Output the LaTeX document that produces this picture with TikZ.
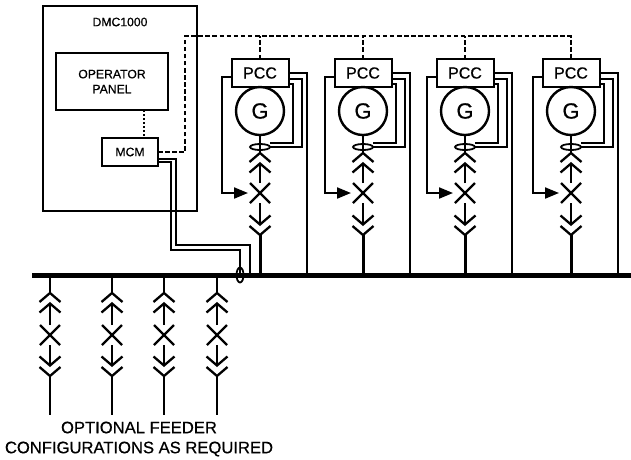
\documentclass[tikz,border=0pt]{standalone}
\usepackage{fontspec}
\setmainfont[FakeBold=0.6]{Liberation Sans}
\usetikzlibrary{arrows.meta}
\usetikzlibrary{positioning}
\usetikzlibrary{shapes.misc}
\usetikzlibrary{shapes.geometric}

\tikzset{
  plug/.pic={
    \draw[line width=2.3pt] (-10.5,9) -- (0,0) -- (10.5,9);
    \draw[line width=2.3pt] (-10.5,19.5) -- (0,10.5) -- (10.5,19.5);
  }
}

\begin{document}
\begin{tikzpicture}[x=1pt,y=-1pt,line width=2pt,
  box node/.style={rectangle,draw,inner sep=0pt,outer sep=0pt},
  small label/.style={font=\fontsize{12.2}{15}\selectfont,align=center},
  pcc node/.style={box node,minimum width=57pt,minimum height=28pt,font=\fontsize{16}{18}\selectfont},
  gen node/.style={circle,draw,line width=2.4pt,inner sep=0pt,outer sep=0pt,minimum size=48pt,font=\fontsize{22}{24}\selectfont},
  breaker/.style={cross out,draw,inner sep=0pt,outer sep=0pt,minimum size=20pt,line width=2.2pt},
  ring/.style={ellipse,draw,inner sep=0pt,outer sep=0pt,line width=1.8pt},
  ctrl/.style={dash pattern=on 4.5pt off 2.6pt,line width=2pt},
  pilot/.style={-{Triangle[length=14pt,width=11pt]}}]

  \useasboundingbox (0,0) rectangle (631,459);

  \node[box node,minimum width=154pt,minimum height=205pt] (dmc) at (120,108.5) {};
  \node[small label] (dmclabel) at (120,22) {DMC1000};
  \node[box node,small label,minimum width=112pt,minimum height=57pt] (panel) at (112,81.5) {OPERATOR\\PANEL};
  \node[box node,small label,minimum width=56pt,minimum height=28pt] (mcm) at (130,152) {MCM};
  \coordinate (panelstub) at (144,110);
  \coordinate (mcmstub) at (144,138);
  \draw[dash pattern=on 2pt off 2pt] (panelstub) -- (mcmstub);

  \coordinate (busleft) at (32,275);
  \coordinate (busright) at (631,275);
  \coordinate (dashcorner) at (185,36);

  \foreach \i/\xc in {1/260,2/363,3/465,4/571} {
    \node[pcc node] (pcc\i) at (\xc,73) {PCC};
    \node[gen node,below=0pt of pcc\i] (g\i) {G};
    \node[ring,minimum width=20pt,minimum height=6pt] (r\i) at (\xc,147) {};
    \node[breaker] (x\i) at (\xc,193) {};
    \coordinate (up\i) at (\xc,153);
    \coordinate (upin\i) at (\xc,163.5);
    \coordinate (dn\i) at (\xc,235);
    \coordinate (dnin\i) at (\xc,224.5);
    \coordinate (bus\i) at (\xc,275);
    \coordinate (feed\i) at (\xc+47,275);
    \draw (g\i.south) -- (up\i);
    \pic at (up\i) {plug};
    \pic[yscale=-1] at (dn\i) {plug};
    \draw (x\i.north) -- (upin\i);
    \draw (x\i.south) -- (dnin\i);
    \draw[line width=3pt] (dn\i) -- (bus\i);
    \draw[pilot] ([yshift=-4pt]pcc\i.west) -- ++(-10,0) |- ([xshift=-2pt]x\i.west);
    \draw (pcc\i.east) -| (feed\i);
    \draw ([yshift=-6pt]pcc\i.east) -- ++(13,0) |- (r\i.east);
    \draw ([yshift=-11pt]pcc\i.east) -- ++(4,0) |- ([yshift=4pt]r\i.east);
    \draw[ctrl] (pcc\i.north) -- (pcc\i.north |- dashcorner);
  }

  \draw[ctrl] (mcm.east) -| (dashcorner) -| (pcc4.north);

  \coordinate (inner) at (176,245);
  \coordinate (outer) at (170.5,250);
  \coordinate (innerbus) at (250,275);
  \coordinate (outerbus) at (240,275);
  \draw ([yshift=-7pt]mcm.east) -| (inner) -| (innerbus);
  \draw ([yshift=-10pt]mcm.east) -| (outer) -| (outerbus);
  \draw[line width=5pt] (busleft) -- (busright);
  \node[ring,minimum width=7pt,minimum height=15pt] (busring) at (outerbus) {};

  \foreach \j/\xf in {1/50,2/112,3/164,4/217} {
    \coordinate (fbus\j) at (\xf,275);
    \coordinate (fup\j) at (\xf,293);
    \coordinate (fupin\j) at (\xf,303.5);
    \node[breaker] (fx\j) at (\xf,335) {};
    \coordinate (fdn\j) at (\xf,376);
    \coordinate (fdnin\j) at (\xf,365.5);
    \coordinate (fend\j) at (\xf,415);
    \draw[line width=2.6pt] (fbus\j) -- (fup\j);
    \pic at (fup\j) {plug};
    \pic[yscale=-1] at (fdn\j) {plug};
    \draw (fx\j.north) -- (fupin\j);
    \draw (fx\j.south) -- (fdnin\j);
    \draw[line width=2.6pt] (fdn\j) -- (fend\j);
  }

  \node[font=\fontsize{16.6}{20}\selectfont,align=center] (note) at (139,439) {OPTIONAL FEEDER\\CONFIGURATIONS AS REQUIRED};
\end{tikzpicture}
\end{document}
